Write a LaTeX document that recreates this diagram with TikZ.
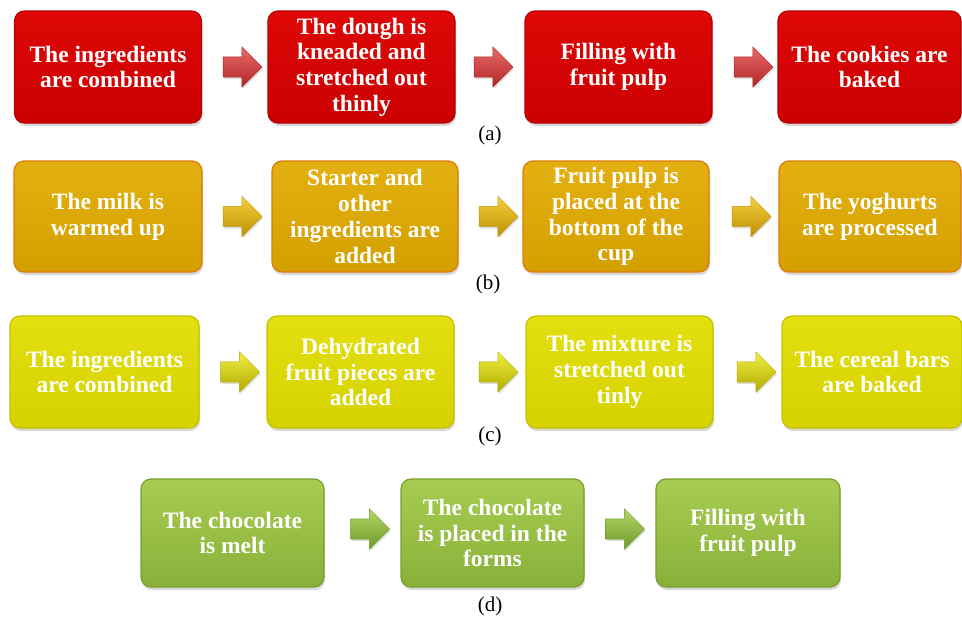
\documentclass[tikz,border=0pt]{standalone}
\usepackage{fontspec}
\setmainfont{Liberation Serif}
\usetikzlibrary{shapes.arrows,shadows}
\definecolor{redtop}{HTML}{DE0808}
\definecolor{redmid}{HTML}{D80202}
\definecolor{redbot}{HTML}{CC0000}
\definecolor{redline}{HTML}{B80000}
\definecolor{orgtop}{HTML}{E2B010}
\definecolor{orgmid}{HTML}{D9A505}
\definecolor{orgbot}{HTML}{D4A000}
\definecolor{orgline}{HTML}{E07A08}
\definecolor{yeltop}{HTML}{E4E010}
\definecolor{yelmid}{HTML}{DCD700}
\definecolor{yelbot}{HTML}{D6D200}
\definecolor{yelline}{HTML}{C4C000}
\definecolor{grntop}{HTML}{A8CC52}
\definecolor{grnmid}{HTML}{98C044}
\definecolor{grnbot}{HTML}{88B038}
\definecolor{grnline}{HTML}{7A9E2E}
\definecolor{rarrtop}{HTML}{E86A6A}
\definecolor{rarrbot}{HTML}{B02626}
\definecolor{oarrtop}{HTML}{F2D040}
\definecolor{oarrbot}{HTML}{BF9000}
\definecolor{yarrtop}{HTML}{F0EE40}
\definecolor{yarrbot}{HTML}{B0AC00}
\definecolor{garrtop}{HTML}{B4D668}
\definecolor{garrbot}{HTML}{6E9A2A}
\begin{document}
\begin{tikzpicture}[x=1pt,y=-1pt,
  stepbox/.style={rectangle, rounded corners=10pt, align=center, text=white,
    font=\fontsize{23.5}{25.7}\selectfont\bfseries, inner sep=0pt, line width=1.2pt,
    drop shadow={shadow xshift=1pt, shadow yshift=-3pt, opacity=0.3}},
  redbox/.style={stepbox, top color=redtop, middle color=redmid, bottom color=redbot, draw=redline},
  orgbox/.style={stepbox, top color=orgtop, middle color=orgmid, bottom color=orgbot, draw=orgline},
  yelbox/.style={stepbox, top color=yeltop, middle color=yelmid, bottom color=yelbot, draw=yelline},
  grnbox/.style={stepbox, top color=grntop, middle color=grnmid, bottom color=grnbot, draw=grnline},
  flowarrow/.style={single arrow, single arrow head extend=10pt, inner sep=10pt,
    minimum height=39pt, line width=0.4pt,
    drop shadow={shadow xshift=1pt, shadow yshift=-2pt, opacity=0.25}},
  rarr/.style={flowarrow, top color=rarrtop, bottom color=rarrbot, draw=rarrbot},
  oarr/.style={flowarrow, top color=oarrtop, bottom color=oarrbot, draw=oarrbot},
  yarr/.style={flowarrow, top color=yarrtop, bottom color=yarrbot, draw=yarrbot},
  garr/.style={flowarrow, top color=garrtop, bottom color=garrbot, draw=garrbot},
  caption/.style={font=\fontsize{21}{24}\selectfont, inner sep=0pt}
]
\useasboundingbox (0,0) rectangle (962,622);

% Row (a)
\node[redbox, minimum width=187pt, minimum height=112pt] (a1) at (108,67) {The ingredients\\are combined};
\node[redbox, minimum width=187pt, minimum height=112pt] (a2) at (361.5,67) {The dough is\\kneaded and\\stretched out\\thinly};
\node[redbox, minimum width=187pt, minimum height=112pt] (a3) at (618.5,67) {Filling with\\fruit pulp};
\node[redbox, minimum width=183pt, minimum height=112pt] (a4) at (869.5,67) {The cookies are\\baked};
\node[rarr] (a12) at (237.5,67) {};
\node[rarr] (a23) at (488.5,67) {};
\node[rarr] (a34) at (748.5,67) {};
\node[caption] (la) at (490,135) {(a)};

% Row (b)
\node[orgbox, minimum width=188pt, minimum height=111pt] (b1) at (108,216.5) {The milk is\\warmed up};
\node[orgbox, minimum width=186pt, minimum height=111pt] (b2) at (365,216.5) {Starter and\\other\\ingredients are\\added};
\node[orgbox, minimum width=186pt, minimum height=111pt] (b3) at (616,216.5) {Fruit pulp is\\placed at the\\bottom of the\\cup};
\node[orgbox, minimum width=182pt, minimum height=111pt] (b4) at (870,216.5) {The yoghurts\\are processed};
\node[oarr] (b12) at (237.5,216.5) {};
\node[oarr] (b23) at (493.5,216.5) {};
\node[oarr] (b34) at (746.5,216.5) {};
\node[caption] (lb) at (488,284) {(b)};

% Row (c)
\node[yelbox, minimum width=189pt, minimum height=112pt] (c1) at (104.5,372) {The ingredients\\are combined};
\node[yelbox, minimum width=187pt, minimum height=112pt] (c2) at (360.5,372) {Dehydrated\\fruit pieces are\\added};
\node[yelbox, minimum width=187pt, minimum height=112pt] (c3) at (619.5,372) {The mixture is\\stretched out\\tinly};
\node[yelbox, minimum width=180pt, minimum height=112pt] (c4) at (872,372) {The cereal bars\\are baked};
\node[yarr] (c12) at (235,372) {};
\node[yarr] (c23) at (493.5,372) {};
\node[yarr] (c34) at (751.5,372) {};
\node[caption] (lc) at (490,436) {(c)};

% Row (d)
\node[grnbox, minimum width=183pt, minimum height=108pt] (d1) at (232.5,533) {The chocolate\\is melt};
\node[grnbox, minimum width=183pt, minimum height=108pt] (d2) at (492.5,533) {The chocolate\\is placed in the\\forms};
\node[grnbox, minimum width=184pt, minimum height=108pt] (d3) at (748,533) {Filling with\\fruit pulp};
\node[garr] (d12) at (365,529) {};
\node[garr] (d23) at (620,529) {};
\node[caption] (ld) at (490,606) {(d)};
\end{tikzpicture}
\end{document}
